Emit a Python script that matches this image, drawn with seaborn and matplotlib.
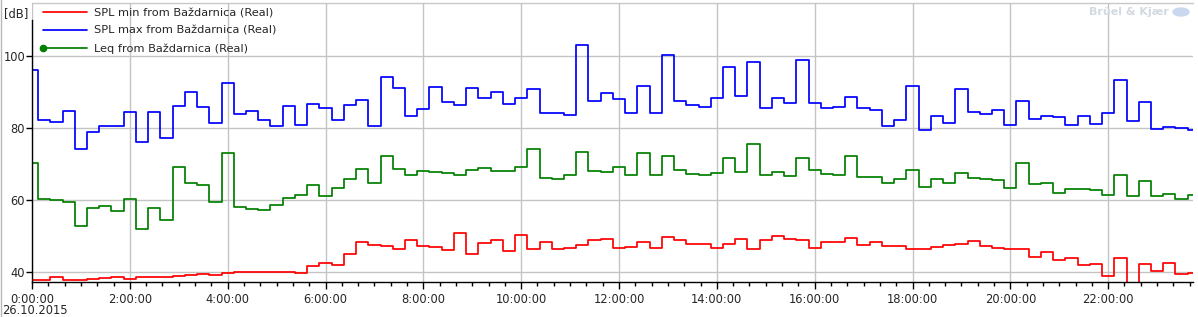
import numpy as np
import pandas as pd
import matplotlib
matplotlib.use("Agg")
import matplotlib.pyplot as plt
import seaborn as sns
from matplotlib.lines import Line2D
from matplotlib.legend_handler import HandlerLine2D
from matplotlib.ticker import FixedLocator, MultipleLocator
from matplotlib.patches import Ellipse

# ---------------- data (15-minute intervals, 26.10.2015) ----------------
spl_max = [96.1, 82.2, 81.6, 84.7, 74.2, 78.8, 80.5, 80.5, 84.4, 76.0,
           84.4, 77.1, 86.0, 89.9, 85.7, 81.3, 92.4, 83.8, 84.7, 82.2,
           80.5, 86.0, 80.75, 86.6, 85.5, 82.2, 86.3, 87.7, 80.5, 94.1,
           91.0, 83.2, 85.2, 91.3, 87.2, 86.3, 91.0, 88.25, 89.9, 86.6,
           88.25, 90.75, 84.1, 84.1, 83.5, 103.0, 87.5, 89.6, 88.0, 84.2,
           91.6, 84.2, 100.2, 87.5, 86.3, 85.7, 88.25, 96.85, 88.8, 98.25,
           85.5, 88.25, 86.85, 98.8, 86.85, 85.5, 85.7, 88.5, 85.5, 84.9,
           80.5, 82.2, 91.6, 79.4, 83.2, 81.3, 90.75, 84.4, 83.8, 84.9,
           80.75, 87.4, 82.4, 83.2, 83.0, 80.75, 83.2, 81.0, 84.1, 93.25,
           81.9, 87.1, 79.7, 80.2, 79.9, 79.4]

leq = [70.2, 60.2, 59.9, 59.4, 52.7, 57.7, 58.25, 56.9, 60.2, 51.9,
       57.7, 54.4, 69.1, 64.7, 64.1, 59.4, 73.0, 58.0, 57.4, 57.1,
       58.5, 60.5, 61.3, 64.1, 61.0, 63.25, 65.75, 68.5, 64.6, 72.1,
       68.5, 66.9, 68.0, 67.7, 67.4, 66.9, 68.25, 68.8, 68.0, 68.0,
       69.1, 74.1, 66.0, 65.75, 66.9, 73.25, 68.0, 67.7, 69.1, 66.9,
       73.0, 66.9, 72.1, 68.25, 67.1, 66.9, 67.4, 71.6, 67.7, 75.5,
       66.9, 67.7, 66.6, 71.6, 68.25, 67.1, 66.9, 72.1, 66.3, 66.3,
       64.6, 65.75, 68.25, 63.5, 65.75, 64.6, 67.4, 66.0, 65.75, 65.5,
       63.25, 70.2, 64.4, 64.6, 61.9, 63.0, 63.0, 62.7, 61.3, 66.9,
       61.0, 65.2, 61.0, 61.6, 60.2, 61.3]

spl_min = [37.8, 37.8, 38.5, 37.7, 37.7, 38.0, 38.25, 38.5, 38.0, 38.5,
           38.5, 38.5, 38.9, 39.1, 39.35, 39.1, 39.6, 39.9, 39.9, 39.9,
           39.9, 39.9, 39.6, 41.8, 42.45, 41.85, 44.9, 48.25, 47.4, 47.1,
           46.3, 48.8, 47.1, 46.85, 46.0, 50.75, 44.9, 48.0, 48.8, 45.75,
           50.2, 46.3, 48.25, 46.3, 46.6, 47.4, 48.8, 49.1, 46.6, 46.85,
           48.25, 46.6, 49.6, 48.8, 47.7, 47.7, 46.6, 47.7, 49.1, 46.3,
           48.8, 49.9, 49.1, 48.8, 46.6, 48.25, 48.25, 49.35, 47.4, 48.25,
           47.1, 47.1, 46.3, 46.3, 46.85, 47.4, 47.7, 48.5, 47.1, 46.6,
           46.3, 46.3, 44.1, 45.5, 43.25, 43.8, 41.9, 42.1, 38.9, 43.8,
           35.0, 42.1, 40.2, 42.4, 39.35, 39.6]

hours = np.arange(len(leq)) * 0.25  # sample times in hours

series_names = ["SPL min from Baždarnica (Real)",
                "SPL max from Baždarnica (Real)",
                "Leq from Baždarnica (Real)"]
series_colors = ["#ff0000", "#0000ff", "#008000"]

x_ticks = [0, 2, 4, 6, 8, 10, 12, 14, 16, 18, 20, 22]
x_tick_labels = ["0:00:00", "2:00:00", "4:00:00", "6:00:00", "8:00:00",
                 "10:00:00", "12:00:00", "14:00:00", "16:00:00",
                 "18:00:00", "20:00:00", "22:00:00"]
y_ticks = [40, 60, 80, 100]
date_label = "26.10.2015"

df = pd.DataFrame({
    "hour": np.concatenate([hours, hours, hours]),
    "value": spl_min + spl_max + leq,
    "series": [series_names[0]] * len(spl_min)
              + [series_names[1]] * len(spl_max)
              + [series_names[2]] * len(leq),
})

# ---------------- figure ----------------
sns.set_style("white")
plt.rcParams["font.family"] = ["DejaVu Sans"]
plt.rcParams["font.size"] = 8

W, H = 1198, 317
fig = plt.figure(figsize=(W / 100, H / 100), dpi=100)
left_px, right_px, top_px, bottom_px = 32, 1193.3, 3, 282
ax = fig.add_axes([left_px / W, 1 - bottom_px / H,
                   (right_px - left_px) / W, (bottom_px - top_px) / H])

sns.lineplot(data=df, x="hour", y="value", hue="series",
             hue_order=series_names, palette=series_colors,
             drawstyle="steps-mid", linewidth=1.25, errorbar=None,
             legend=False, ax=ax, sort=True)

ax.set_xlim(0, 23.74)
ax.set_ylim(37.22, 114.7)
ax.set_xlabel("")
ax.set_ylabel("")

ax.xaxis.set_major_locator(FixedLocator(x_ticks))
ax.set_xticklabels(x_tick_labels)
ax.xaxis.set_minor_locator(MultipleLocator(1 / 3))
ax.yaxis.set_major_locator(FixedLocator(y_ticks))
ax.set_yticklabels([str(v) for v in y_ticks])

ax.tick_params(axis="x", which="major", direction="out", length=5, width=1,
               color="black", labelsize=8.3, pad=3, bottom=True)
ax.tick_params(axis="x", which="minor", direction="out", length=3, width=1,
               color="black", bottom=True)
ax.tick_params(axis="y", which="major", direction="out", length=4, width=1,
               color="black", labelsize=8.3, pad=1, left=True)

ax.grid(True, which="major", color="#c4c4c4", linewidth=1.0)
ax.set_axisbelow(True)

for s in ["left", "bottom"]:
    ax.spines[s].set_color("black")
    ax.spines[s].set_linewidth(1.0)
ax.spines["left"].set_bounds(37.22, 110)
ax.spines["top"].set_color("#c8c8c8")
ax.spines["top"].set_linewidth(1.0)
ax.spines["right"].set_visible(False)


# legend with the marker at the left end of the Leq handle
class LeftMarkerHandler(HandlerLine2D):
    def create_artists(self, legend, orig_handle, xdescent, ydescent,
                       width, height, fontsize, trans):
        arts = super().create_artists(legend, orig_handle, xdescent, ydescent,
                                      width, height, fontsize, trans)
        arts[0].set_markevery([0])
        return arts


handles = [Line2D([], [], color=series_colors[0], lw=1.25),
           Line2D([], [], color=series_colors[1], lw=1.25),
           Line2D([], [], color=series_colors[2], lw=1.25, marker="o",
                  markersize=4.5)]
leg = ax.legend(handles, series_names, loc="upper left",
                bbox_to_anchor=(43 / W, 1 - 8 / H),
                bbox_transform=fig.transFigure, frameon=False,
                handlelength=3.9, handletextpad=0.55, labelspacing=0.66,
                borderaxespad=0, borderpad=0, fontsize=8.2,
                handler_map={handles[2]: LeftMarkerHandler()})

fig.text(4 / W, 1 - 14 / H, "[dB]", ha="left", va="center", fontsize=8.3)
fig.text(2 / W, 1 - 311 / H, date_label, ha="left", va="center", fontsize=8.3)

# faint vendor logo
fig.text(1089 / W, 1 - 12 / H, "Brüel & Kjær", ha="left", va="center",
         fontsize=8, fontweight="bold", color="#d2d9e1")
fig.patches.append(Ellipse((1181 / W, 1 - 12 / H), 16 / W, 8 / H,
                           transform=fig.transFigure, color="#c9d8ee"))

# window border line
fig.add_artist(Line2D([0.5 / W, 0.5 / W], [0, 1], color="#b8b8b8", lw=1,
                      transform=fig.transFigure))

fig.savefig("out.png", dpi=100)
